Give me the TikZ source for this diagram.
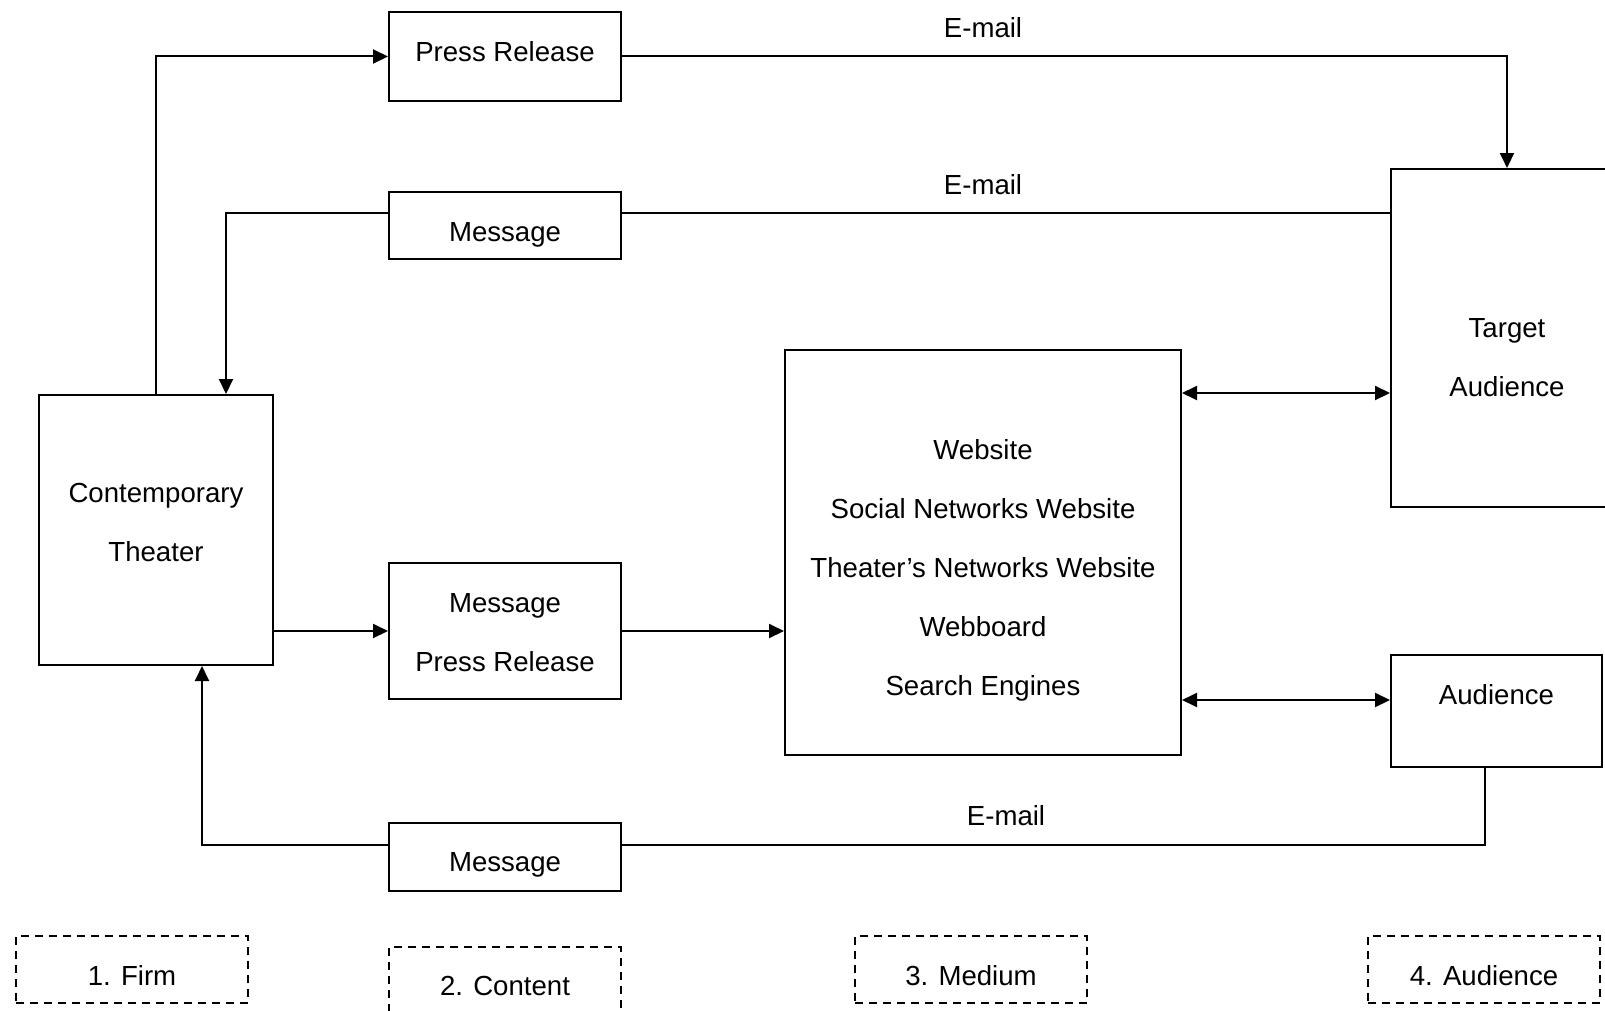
\documentclass[tikz,border=0pt]{standalone}
\usepackage{fontspec}
\setmainfont{Liberation Sans}
\usetikzlibrary{arrows.meta,calc}

\begin{document}
\begin{tikzpicture}[x=0.5pt, y=-0.5pt,
    box/.style={rectangle, draw, line width=1pt, fill=white, inner sep=0pt},
    dbox/.style={rectangle, draw, line width=0.9pt, dash pattern=on 4pt off 3pt, inner sep=0pt, minimum width=116pt, minimum height=33.5pt},
    txt/.style={align=center, font=\fontsize{13.8}{29.5}\selectfont},
    line/.style={line width=1pt},
    arr/.style={line width=1pt, -{Triangle[length=7.5pt, width=7pt]}},
    arr2/.style={line width=1pt, {Triangle[length=7.5pt, width=7pt]}-{Triangle[length=7.5pt, width=7pt]}},
    lbl/.style={font=\fontsize{13.8}{16}\selectfont}]
    \useasboundingbox (0,0) rectangle (1605,1011);
    \clip (0,0) rectangle (1605,1011);

    % 1. firm
    \node[box, minimum width=117pt, minimum height=135pt, label={[txt, yshift=3.6pt]center:Contemporary\\Theater}] (ct) at (156,530) {};

    % 2. content
    \node[box, minimum width=116pt, minimum height=44.5pt, label={[txt, yshift=2.6pt]center:Press Release}] (pr1) at (505,56.5) {};
    \node[box, minimum width=116pt, minimum height=33.5pt, label={[txt, yshift=-4.6pt]center:Message}] (msgA) at (505,225.5) {};
    \node[box, minimum width=116pt, minimum height=68pt, label={[txt, yshift=-0.7pt]center:Message\\Press Release}] (mp) at (505,631) {};
    \node[box, minimum width=116pt, minimum height=34pt, label={[txt, yshift=-4.1pt]center:Message}] (msgC) at (505,857) {};

    % 3. medium
    \node[box, minimum width=198pt, minimum height=202.5pt, label={[txt, yshift=-9pt]center:Website\\Social Networks Website\\Theater’s Networks Website\\Webboard\\Search Engines}] (med) at (983,552.5) {};

    % 4. audience
    \node[box, minimum width=116pt, minimum height=169pt, label={[txt, yshift=-9.7pt]center:Target\\Audience}] (tgt) at (1507,338) {};
    \node[box, minimum width=105.5pt, minimum height=56pt, label={[txt, yshift=8pt]center:Audience}] (aud) at (1496.5,711) {};

    % press release out
    \draw[arr] (ct.north) |- (pr1.west);
    \draw[arr] (pr1.east) -| (tgt.north);
    \node[lbl] (em1) at (983,28) {E-mail};

    % message back
    \coordinate (fb) at ($(tgt.north west)+(0,45)$);
    \draw[line] (fb) -- (fb -| msgA.east);
    \draw[arr] (fb -| msgA.west) -| ($(ct.north)+(70,0)$);
    \node[lbl] (em2) at (983,185) {E-mail};

    % through the medium
    \draw[arr] (ct.east |- mp.west) -- (mp.west);
    \draw[arr] (mp.east) -- (mp.east -| med.west);
    \coordinate (mt) at ($(med.north east)+(0,44)$);
    \draw[arr2] (mt) -- (mt -| tgt.west);
    \coordinate (ma) at ($(aud.west)+(0,-11)$);
    \draw[arr2] (ma -| med.east) -- (ma);

    % audience reply
    \coordinate (ec) at ($(msgC.east)+(0,-12)$);
    \draw[line] ($(aud.south)+(-11.5,0)$) |- (ec);
    \draw[arr] (ec -| msgC.west) -| ($(ct.south)+(46,0)$);
    \node[lbl] (em3) at (1006,816) {E-mail};

    % stages
    \node[dbox, label={[txt, yshift=-3pt]center:1. Firm}] (s1) at (132,969.5) {};
    \node[dbox, label={[txt, yshift=-2.5pt]center:2. Content}] (s2) at (505,980.5) {};
    \node[dbox, label={[txt, yshift=-3pt]center:3. Medium}] (s3) at (971,969.5) {};
    \node[dbox, label={[txt, yshift=-3pt]center:4. Audience}] (s4) at (1484,969.5) {};
\end{tikzpicture}
\end{document}
